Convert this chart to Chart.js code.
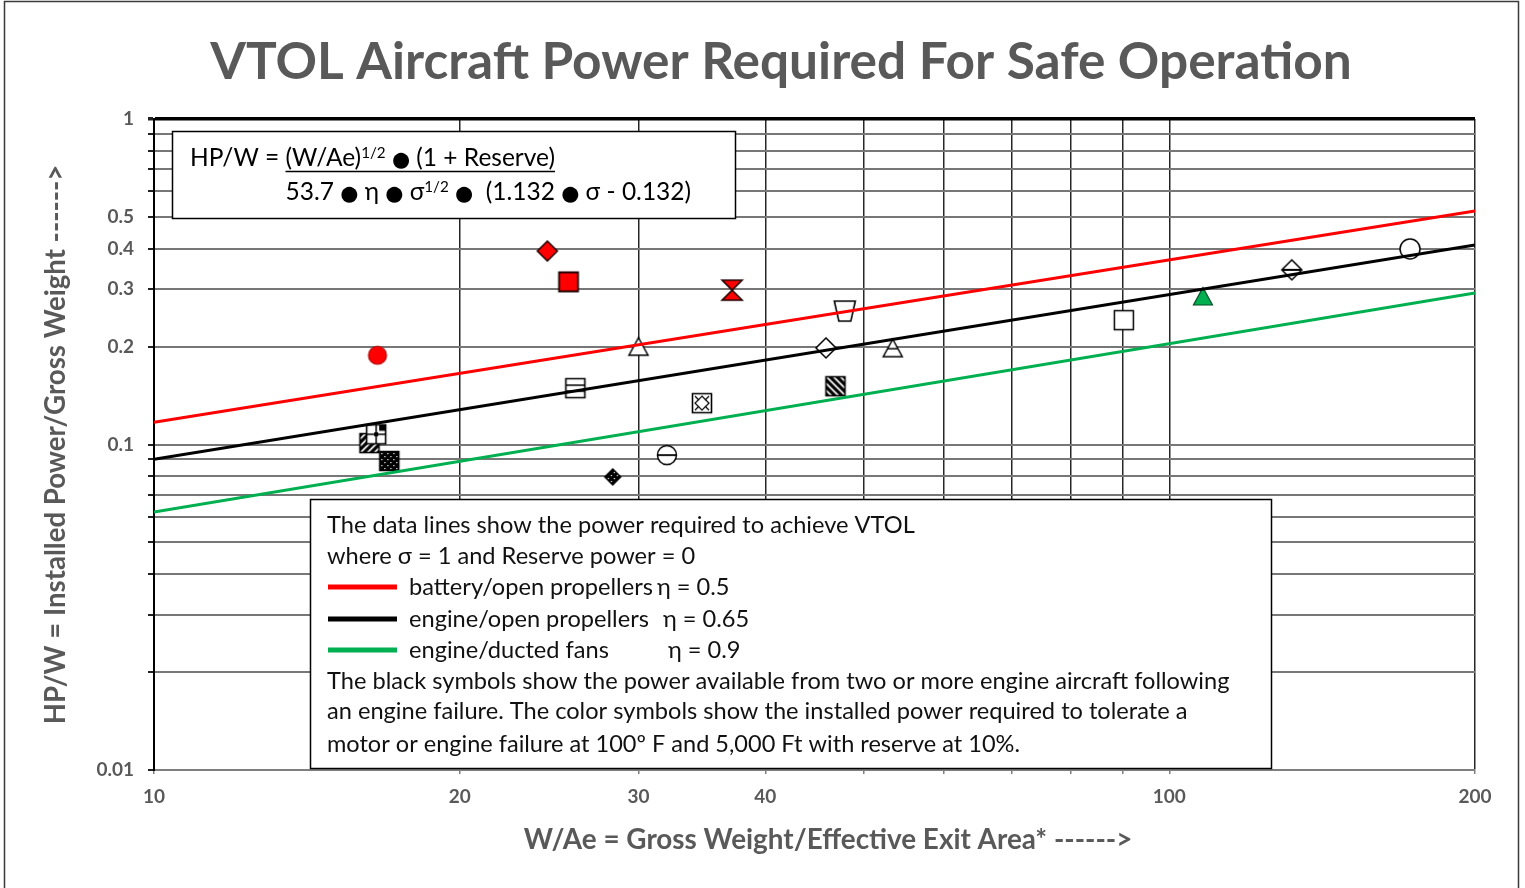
<!DOCTYPE html>
<html><head><meta charset="utf-8">
<script src="https://cdn.jsdelivr.net/npm/chart.js@4.4.0/dist/chart.umd.min.js"></script>
<style>html,body{margin:0;padding:0;background:#fff;}#wrap{width:1525px;height:888px;position:relative;}</style>
</head><body><div id="wrap"><canvas id="c" width="1525" height="888"></canvas></div>
<script>
// ---------------- data ----------------
const xGridValues = [10, 20, 30, 40, 50, 60, 70, 80, 90, 100, 200];
const xTickLabels = [10, 20, 30, 40, 100, 200];
const yGridValues = [0.01, 0.02, 0.03, 0.04, 0.05, 0.06, 0.07, 0.08, 0.09, 0.1, 0.2, 0.3, 0.4, 0.5, 0.6, 0.7, 0.8, 0.9, 1];
const yTickLabels = [0.01, 0.1, 0.2, 0.3, 0.4, 0.5, 1];

const lineX = [10, 200];
const batteryPropY = [0.117, 0.522];   // eta = 0.5
const enginePropY = [0.090, 0.410];    // eta = 0.65
const engineDuctY = [0.062, 0.292];    // eta = 0.9

const colorSymbolX = [16.6, 24.4, 25.6, 37.1, 107.9];
const colorSymbolY = [0.188, 0.393, 0.316, 0.298, 0.284];
const colorSymbolShape = ['redCircle', 'redDiamond', 'redSquare', 'redHourglass', 'greenTriangle'];

const blackSymbolX = [16.3, 16.55, 17.05, 26.0, 28.3, 30.0, 32.0, 34.65, 47.9, 45.9, 46.9, 53.4, 90.2, 132.0, 172.6];
const blackSymbolY = [0.101, 0.1075, 0.089, 0.149, 0.0795, 0.199, 0.0928, 0.134, 0.257, 0.198, 0.151, 0.197, 0.241, 0.344, 0.399];
const blackSymbolShape = ['upHatchSquare', 'gridSquare', 'checkSquare', 'stripeSquare', 'checkDiamond', 'triangle', 'lineCircle', 'diamondSquare', 'trapezoid', 'diamond', 'downHatchSquare', 'lineTriangle', 'square', 'lineDiamond', 'circle'];

const chartTitle = 'VTOL Aircraft Power Required For Safe Operation';
const yTitle = 'HP/W = Installed Power/Gross Weight ------>';
const xTitle = 'W/Ae = Gross Weight/Effective Exit Area* ------>';
const noteLines = [
  'The data lines show the power required to achieve VTOL',
  'where σ = 1 and Reserve power = 0'
];
const seriesLabels = ['battery/open propellers', 'engine/open propellers', 'engine/ducted fans'];
const seriesEta = ['η = 0.5', 'η = 0.65', 'η = 0.9'];
const seriesColors = ['#ff0000', '#000000', '#00b050'];
const footLines = [
  'The black symbols show the power available from two or more engine aircraft following',
  'an engine failure. The color symbols show the installed power required to tolerate a',
  'motor or engine failure at 100º F and 5,000 Ft with reserve at 10%.'
];

// ---------------- helpers ----------------
const FAM = 'Lato, "Open Sans", sans-serif';
const mctx = document.createElement('canvas').getContext('2d');
function fitSize(text, weight, target) {
  mctx.font = weight + ' 100px ' + FAM;
  return 100 * target / mctx.measureText(text).width;
}
const titleSize = fitSize(chartTitle, 'bold', 1142);
const yTitleSize = fitSize(yTitle, 'bold', 560);
const xTitleSize = fitSize(xTitle, 'bold', 609);
const bodySize = fitSize(noteLines[0], 'normal', 588);

function mk(draw) {
  const c = document.createElement('canvas');
  c.width = 26; c.height = 26;
  const g = c.getContext('2d');
  g.translate(13, 13);
  draw(g);
  return c;
}
function path(g, pts) {
  g.beginPath(); g.moveTo(pts[0][0], pts[0][1]);
  for (let i = 1; i < pts.length; i++) g.lineTo(pts[i][0], pts[i][1]);
  g.closePath();
}
function fs(g, fill, stroke, lw) {
  if (fill) { g.fillStyle = fill; g.fill(); }
  g.lineWidth = lw || 1.5; g.strokeStyle = stroke || '#000'; g.stroke();
}
const sq = 9.5, dm = 10;
const SQ = [[-sq, -sq], [sq, -sq], [sq, sq], [-sq, sq]];
const DM = [[0, -dm], [dm, 0], [0, dm], [-dm, 0]];
const TRI = [[0, -9.5], [9.5, 8], [-9.5, 8]];
function clipShape(g, pts, fn) { g.save(); path(g, pts); g.clip(); fn(); g.restore(); }
function stripes(g, dir) {
  g.strokeStyle = '#000'; g.lineWidth = 3.2;
  for (let o = -24; o <= 24; o += 7) {
    g.beginPath();
    if (dir > 0) { g.moveTo(-14 + o, 14); g.lineTo(14 + o, -14); }
    else { g.moveTo(-14 + o, -14); g.lineTo(14 + o, 14); }
    g.stroke();
  }
}
function checker(g) {
  g.fillStyle = '#000'; g.fillRect(-12, -12, 24, 24);
  g.fillStyle = '#fff';
  for (let i = -12; i < 12; i += 3) for (let j = -12; j < 12; j += 3) {
    if (((i + j) / 3) % 2 === 0) g.fillRect(i + 1, j + 1, 1.2, 1.2);
  }
}
const markers = {
  redCircle: mk(g => { g.beginPath(); g.arc(0, 0, 9, 0, 2 * Math.PI); fs(g, '#ff0000', '#b00000', 1.2); }),
  redDiamond: mk(g => { path(g, DM); fs(g, '#ff0000', '#200000', 1.5); }),
  redSquare: mk(g => { path(g, SQ); fs(g, '#ff0000', '#200000', 1.8); }),
  redHourglass: mk(g => { path(g, [[-10, -10], [10, -10], [0, 0], [10, 10], [-10, 10], [0, 0]]); fs(g, '#ff0000', '#200000', 1.6); }),
  greenTriangle: mk(g => { path(g, TRI); fs(g, '#00b050', '#004d24', 1.2); }),
  upHatchSquare: mk(g => { path(g, SQ); g.fillStyle = '#fff'; g.fill(); clipShape(g, SQ, () => stripes(g, 1)); path(g, SQ); fs(g, null, '#000', 1.6); }),
  downHatchSquare: mk(g => { path(g, SQ); g.fillStyle = '#fff'; g.fill(); clipShape(g, SQ, () => stripes(g, -1)); path(g, SQ); fs(g, null, '#000', 1.6); }),
  gridSquare: mk(g => { path(g, SQ); g.fillStyle = '#fff'; g.fill(); g.fillStyle = '#000'; g.fillRect(3, -sq, sq - 3, 6); g.fillRect(-2, -2, 4, 4);
    g.lineWidth = 1.5; g.beginPath(); g.moveTo(-sq, 0); g.lineTo(sq, 0); g.moveTo(0, -sq); g.lineTo(0, sq); g.stroke(); path(g, SQ); fs(g, null, '#000', 1.6); }),
  checkSquare: mk(g => { clipShape(g, SQ, () => checker(g)); path(g, SQ); fs(g, null, '#000', 1.6); }),
  stripeSquare: mk(g => { path(g, SQ); g.fillStyle = '#fff'; g.fill(); g.lineWidth = 1.6; g.strokeStyle = '#000';
    g.beginPath(); g.moveTo(-sq, -3); g.lineTo(sq, -3); g.moveTo(-sq, 3); g.lineTo(sq, 3); g.stroke(); path(g, SQ); fs(g, null, '#000', 1.6); }),
  checkDiamond: mk(g => { const d = [[0, -8], [8, 0], [0, 8], [-8, 0]]; clipShape(g, d, () => checker(g)); path(g, d); fs(g, null, '#000', 1.4); }),
  triangle: mk(g => { path(g, TRI); fs(g, '#fff', '#000', 1.5); }),
  lineTriangle: mk(g => { path(g, TRI); fs(g, '#fff', '#000', 1.5); g.beginPath(); g.moveTo(-5, 0); g.lineTo(5, 0); g.stroke(); }),
  lineCircle: mk(g => { g.beginPath(); g.arc(0, 0, 9.5, 0, 2 * Math.PI); fs(g, '#fff', '#000', 1.5); g.beginPath(); g.moveTo(-9.5, 0); g.lineTo(9.5, 0); g.lineWidth = 1.8; g.stroke(); }),
  diamondSquare: mk(g => { path(g, SQ); fs(g, '#fff', '#000', 1.6); path(g, [[0, -7], [7, 0], [0, 7], [-7, 0]]); fs(g, null, '#000', 1.2);
    g.beginPath(); g.moveTo(-7, -7); g.lineTo(-3, -3); g.moveTo(7, -7); g.lineTo(3, -3); g.moveTo(-7, 7); g.lineTo(-3, 3); g.moveTo(7, 7); g.lineTo(3, 3); g.stroke(); }),
  trapezoid: mk(g => { path(g, [[-10.5, -10], [10.5, -10], [6, 10], [-6, 10]]); fs(g, '#fff', '#000', 1.6); }),
  diamond: mk(g => { path(g, DM); fs(g, '#fff', '#000', 1.5); }),
  lineDiamond: mk(g => { path(g, DM); fs(g, '#fff', '#000', 1.5); g.beginPath(); g.moveTo(-dm, 0); g.lineTo(dm, 0); g.lineWidth = 2; g.stroke(); }),
  square: mk(g => { path(g, SQ); fs(g, '#fff', '#000', 1.5); }),
  circle: mk(g => { g.beginPath(); g.arc(0, 0, 10, 0, 2 * Math.PI); fs(g, '#fff', '#000', 1.5); })
};

// ---------------- decoration plugin ----------------
function drawRuns(ctx, x, y, runs, size) {
  for (const r of runs) {
    let sz = size, dy = 0;
    if (r.sup) { sz = size * 0.62; dy = -size * 0.33; }
    if (r.dot) { sz = size * 0.85; }
    ctx.font = sz + 'px ' + (r.dot ? '"DejaVu Sans"' : FAM);
    ctx.fillText(r.t, x, y + dy);
    x += ctx.measureText(r.t).width;
  }
  return x;
}
const deco = {
  id: 'deco',
  beforeDraw(chart) {
    const ctx = chart.ctx;
    ctx.save();
    ctx.fillStyle = '#fff'; ctx.fillRect(0, 0, chart.width, chart.height);
    ctx.strokeStyle = '#3a3a3a'; ctx.lineWidth = 1.5;
    ctx.beginPath(); ctx.moveTo(4.5, 888); ctx.lineTo(4.5, 1.5); ctx.lineTo(1518.5, 1.5); ctx.lineTo(1518.5, 888); ctx.stroke();
    ctx.fillStyle = '#595959';
    ctx.font = 'bold ' + titleSize + 'px ' + FAM;
    ctx.textAlign = 'center'; ctx.textBaseline = 'middle';
    ctx.fillText(chartTitle, 781, 62);
    ctx.restore();
  },
  beforeDatasetsDraw(chart) {
    const ctx = chart.ctx;
    ctx.save();
    // formula box
    ctx.fillStyle = '#fff'; ctx.fillRect(172, 131, 563, 87);
    ctx.strokeStyle = '#000'; ctx.lineWidth = 1.5; ctx.strokeRect(172.5, 131.5, 563, 87);
    ctx.fillStyle = '#000'; ctx.textBaseline = 'alphabetic'; ctx.textAlign = 'left';
    const fsz = 24.5;
    let x = drawRuns(ctx, 190, 166, [{t: 'HP/W = '}], fsz);
    const ux = x;
    x = drawRuns(ctx, x, 166, [{t: '(W/Ae)'}, {t: '1/2', sup: true}, {t: ' '}, {t: '●', dot: true}, {t: ' (1 + Reserve)'}], fsz);
    ctx.lineWidth = 1.5; ctx.beginPath(); ctx.moveTo(ux, 171.5); ctx.lineTo(x, 171.5); ctx.stroke();
    drawRuns(ctx, ux, 200, [{t: '53.7 '}, {t: '●', dot: true}, {t: ' η '}, {t: '●', dot: true}, {t: ' σ'}, {t: '1/2', sup: true}, {t: ' '}, {t: '●', dot: true}, {t: '  (1.132 '}, {t: '●', dot: true}, {t: ' σ - 0.132)'}], fsz);
    // note box
    ctx.fillStyle = '#fff'; ctx.fillRect(310, 499, 961, 269);
    ctx.strokeStyle = '#000'; ctx.lineWidth = 1.5; ctx.strokeRect(310.5, 499.5, 961, 269);
    ctx.fillStyle = '#111'; ctx.textBaseline = 'middle';
    ctx.font = bodySize + 'px ' + FAM;
    ctx.fillText(noteLines[0], 327, 525);
    ctx.fillText(noteLines[1], 327, 556);
    const ys = [587, 619, 650];
    const etaX = [657, 663, 668];
    for (let i = 0; i < 3; i++) {
      ctx.strokeStyle = seriesColors[i]; ctx.lineWidth = 5;
      ctx.beginPath(); ctx.moveTo(328, ys[i]); ctx.lineTo(397, ys[i]); ctx.stroke();
      ctx.fillText(seriesLabels[i], 409, ys[i]);
      ctx.fillText(seriesEta[i], etaX[i], ys[i]);
    }
    const fw = [913, 872, 693];
    const fy = [681, 711, 744];
    for (let i = 0; i < 3; i++) ctx.fillText(footLines[i], 327, fy[i], fw[i]);
    ctx.restore();
  }
};

// ---------------- chart ----------------
const pts = (xs, ys) => xs.map((x, i) => ({x: x, y: ys[i]}));
const lineDs = (ys, color) => ({type: 'scatter', data: pts(lineX, ys), showLine: true, borderColor: color, borderWidth: 3, pointRadius: 0, fill: false});
const tickFont = {family: FAM, weight: 'bold', size: 19};

new Chart(document.getElementById('c'), {
  type: 'scatter',
  data: {
    datasets: [
      lineDs(batteryPropY, '#ff0000'),
      lineDs(enginePropY, '#000000'),
      lineDs(engineDuctY, '#00b050'),
      {data: pts(colorSymbolX, colorSymbolY), pointStyle: colorSymbolShape.map(s => markers[s]), pointRadius: 10, pointHoverRadius: 10},
      {data: pts(blackSymbolX, blackSymbolY), pointStyle: blackSymbolShape.map(s => markers[s]), pointRadius: 10, pointHoverRadius: 10}
    ]
  },
  options: {
    responsive: false, animation: false, events: [],
    layout: {padding: {top: 119, right: 50, bottom: 0, left: 0}},
    plugins: {legend: {display: false}, tooltip: {enabled: false}, title: {display: false}},
    scales: {
      x: {
        type: 'logarithmic', min: 10, max: 200, position: 'bottom',
        afterBuildTicks: s => { s.ticks = xGridValues.map(v => ({value: v})); },
        afterFit: s => { s.height = 118; },
        ticks: {autoSkip: false, maxRotation: 0, minRotation: 0, padding: 11, color: '#595959', font: tickFont,
          callback: v => xTickLabels.includes(v) ? String(v) : ''},
        grid: {color: '#262626', lineWidth: 1.5, tickLength: 4, tickColor: '#7f7f7f'},
        border: {display: true, color: '#7f7f7f', width: 2},
        title: {display: true, text: '    ' + xTitle, color: '#595959', font: {family: FAM, weight: 'bold', size: xTitleSize}, padding: {top: 0, bottom: 31}}
      },
      y: {
        type: 'logarithmic', min: 0.01, max: 1, position: 'left',
        afterBuildTicks: s => { s.ticks = yGridValues.map(v => ({value: v})); },
        afterFit: s => { s.width = 154; },
        ticks: {autoSkip: false, padding: 14, color: '#595959', font: tickFont,
          callback: v => yTickLabels.includes(v) ? String(v) : ''},
        grid: {color: c => (c.tick && c.tick.value === 1) ? '#000' : '#777',
               lineWidth: c => (c.tick && c.tick.value === 1) ? 3.5 : 2,
               tickLength: 6, tickColor: '#222'},
        border: {display: true, color: '#000', width: 2},
        title: {display: true, text: yTitle, color: '#595959', font: {family: FAM, weight: 'bold', size: yTitleSize}, padding: {top: 40, bottom: 0}}
      }
    }
  },
  plugins: [deco]
});
</script></body></html>
